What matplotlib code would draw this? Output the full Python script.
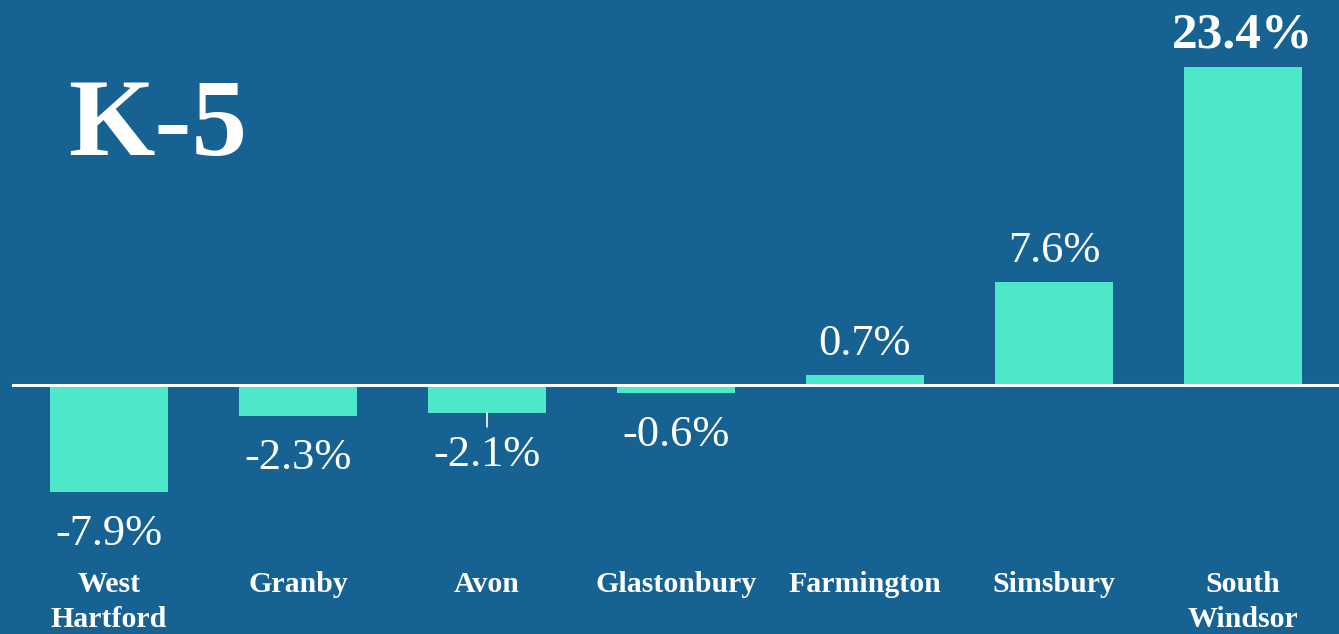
import matplotlib.pyplot as plt
import numpy as np

# Data
towns = ['West\nHartford', 'Granby', 'Avon', 'Glastonbury', 'Farmington', 'Simsbury', 'South\nWindsor']
change = [-7.9, -2.3, -2.1, -0.6, 0.7, 7.6, 23.4]
title = 'K-5'

bg = '#166292'
bar_color = '#4DE8CA'
plt.rcParams['font.family'] = ['Liberation Serif', 'DejaVu Serif']

W, H = 1339, 634
fig = plt.figure(figsize=(W / 100, H / 100), dpi=100, facecolor=bg)
ax = fig.add_axes([0, 0, 1, 1])
ax.set_facecolor(bg)

x = np.arange(len(towns))
ax.bar(x, change, width=0.624, color=bar_color, zorder=2)

# scale: zero line ~384.5 px from top, ~13.55 px per percent point
px_per = 13.55
zero_px = 384.5
ax.set_ylim(-(H - zero_px) / px_per, zero_px / px_per)
ax.set_xlim(-109 / 189, (W - 109) / 189)
ax.axhline(0, xmin=13 / W, xmax=1, color='white', lw=2.2, zorder=3)
ax.axis('off')

# value labels
for i, v in enumerate(change):
    big = v == max(change)
    off = 20 if v >= 0 else -53
    ax.annotate(f'{v:.1f}%', (i, v), xytext=(0, off), textcoords='offset pixels',
                ha='center', va='baseline', color='white',
                fontsize=37 if big else 32,
                fontweight='bold' if big else 'normal')

# stray leader tick under Avon
ia = towns.index('Avon')
ax.annotate('', (ia, change[ia]), xytext=(0, -14), textcoords='offset pixels',
            arrowprops=dict(arrowstyle='-', color='white', lw=1.2,
                            shrinkA=0, shrinkB=0),
            annotation_clip=False)

# category labels, top aligned so one- and two-line labels share the first line
for i, t in enumerate(towns):
    ax.text(i, 1 - 571 / H, t, transform=ax.get_xaxis_transform(),
            ha='center', va='top', color='white', fontsize=21.5,
            fontweight='bold', linespacing=1.38)

fig.text(68 / W, 1 - 155 / H, title, color='white', fontsize=80,
         fontweight='bold', ha='left', va='baseline')

fig.savefig('out.png', dpi=100, facecolor=bg)
